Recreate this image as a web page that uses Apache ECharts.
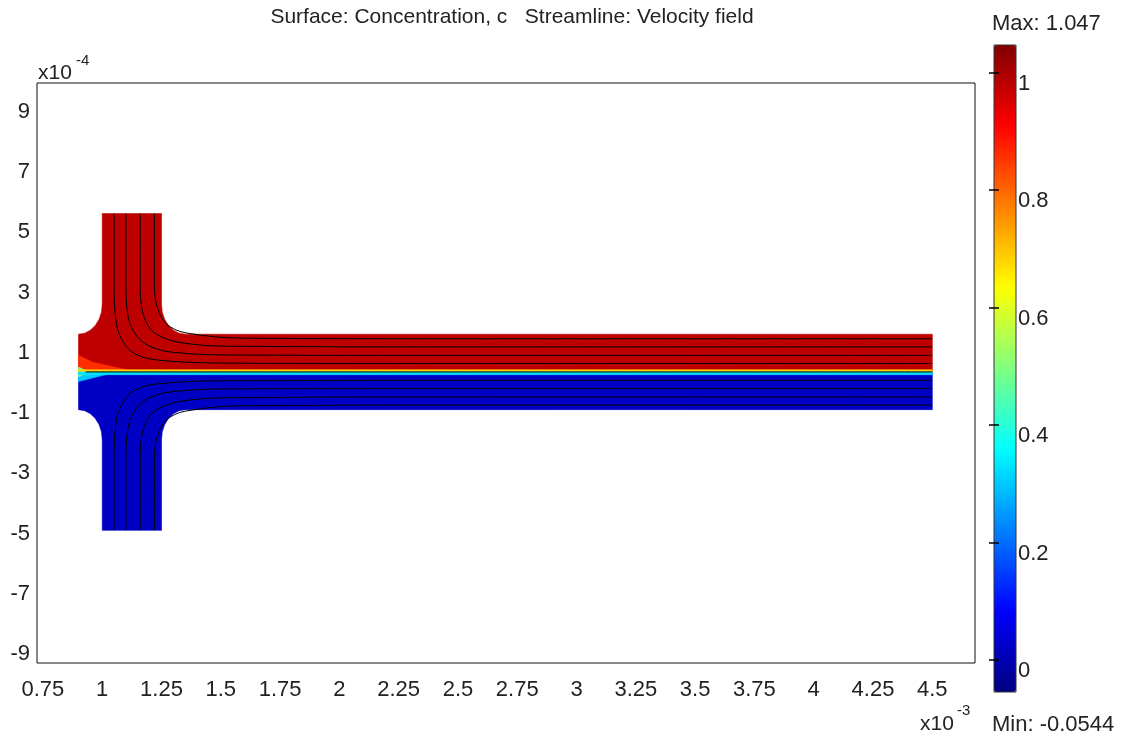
<!DOCTYPE html>
<html>
<head>
<meta charset="utf-8">
<title>Surface: Concentration, c  Streamline: Velocity field</title>
<script src="https://cdn.jsdelivr.net/npm/echarts@6/dist/echarts.min.js"></script>
<style>
  html, body { margin: 0; padding: 0; background: #fff; }
  #chart { width: 1127px; height: 747px; }
</style>
</head>
<body>
<div id="chart"></div>
<script>
// x in units of 1e-3 m, y in units of 1e-4 m
const xTicks = [0.75, 1, 1.25, 1.5, 1.75, 2, 2.25, 2.5, 2.75, 3, 3.25, 3.5, 3.75, 4, 4.25, 4.5];
const yTicks = [-9, -7, -5, -3, -1, 1, 3, 5, 7, 9];
const cTicks = [0, 0.2, 0.4, 0.6, 0.8, 1];
const cMin = -0.0544;
const cMax = 1.047;

// Upper fluid (inlet from the top), outline of the T-junction above the interface
const topFluid = [
  [0.9, 0.0], [0.9, 1.25], [0.926, 1.284], [0.95, 1.384], [0.971, 1.543], [0.987, 1.75],
  [0.997, 1.99], [1.0, 2.25], [1.0, 5.25], [1.25, 5.25], [1.25, 2.25], [1.253, 1.99],
  [1.263, 1.75], [1.279, 1.543], [1.30, 1.384], [1.324, 1.284], [1.35, 1.25],
  [4.5, 1.25], [4.5, 0.0]
];
// Lower fluid (inlet from the bottom)
const bottomFluid = [
  [0.9, 0.0], [0.9, -1.25], [0.926, -1.284], [0.95, -1.384], [0.971, -1.543], [0.987, -1.75],
  [0.997, -1.99], [1.0, -2.25], [1.0, -5.25], [1.25, -5.25], [1.25, -2.25], [1.253, -1.99],
  [1.263, -1.75], [1.279, -1.543], [1.30, -1.384], [1.324, -1.284], [1.35, -1.25],
  [4.5, -1.25], [4.5, 0.0]
];
// Mixing zone in the dead end on the left
const deadEndWarm = [[0.9, 0.05], [0.9, 0.55], [0.96, 0.32], [1.1, 0.08]];
const deadEndCool = [[0.9, -0.05], [1.02, -0.08], [0.9, -0.32]];
const deadEndMid = [[0.9, -0.16], [0.945, 0.0], [0.9, 0.16]];
// Thin diffusion layer along the interface
const layerUpper = [[0.9, 0.0], [4.5, 0.0], [4.5, 0.07], [0.9, 0.07]];
const layerLower = [[0.9, 0.0], [4.5, 0.0], [4.5, -0.09], [0.9, -0.09]];

const regions = [topFluid, bottomFluid, deadEndWarm, deadEndCool, deadEndMid, layerUpper, layerLower];
const concentration = [0.98, 0.02, 0.86, 0.3, 0.5, 0.68, 0.33];

// Streamlines of the velocity field
const streamTop1 = [[1.22, 5.25], [1.22, 3.0], [1.23, 2.2], [1.27, 1.6], [1.35, 1.3], [1.6, 1.12], [2.5, 1.1], [4.5, 1.1]];
const streamTop2 = [[1.16, 5.25], [1.16, 3.0], [1.17, 2.0], [1.22, 1.3], [1.35, 0.95], [1.6, 0.85], [2.5, 0.83], [4.5, 0.83]];
const streamTop3 = [[1.10, 5.25], [1.10, 3.0], [1.11, 1.8], [1.17, 1.0], [1.3, 0.65], [1.6, 0.56], [2.5, 0.55], [4.5, 0.55]];
const streamTop4 = [[1.05, 5.25], [1.05, 3.0], [1.06, 1.6], [1.12, 0.7], [1.25, 0.38], [1.6, 0.29], [2.5, 0.28], [4.5, 0.28]];
const streamMid = [[0.93, 0.0], [4.5, 0.0]];
const streamBot1 = [[1.22, -5.25], [1.22, -3.0], [1.23, -2.2], [1.27, -1.6], [1.35, -1.3], [1.6, -1.12], [2.5, -1.1], [4.5, -1.1]];
const streamBot2 = [[1.16, -5.25], [1.16, -3.0], [1.17, -2.0], [1.22, -1.3], [1.35, -0.95], [1.6, -0.85], [2.5, -0.83], [4.5, -0.83]];
const streamBot3 = [[1.10, -5.25], [1.10, -3.0], [1.11, -1.8], [1.17, -1.0], [1.3, -0.65], [1.6, -0.56], [2.5, -0.55], [4.5, -0.55]];
const streamBot4 = [[1.05, -5.25], [1.05, -3.0], [1.06, -1.6], [1.12, -0.7], [1.25, -0.38], [1.6, -0.29], [2.5, -0.28], [4.5, -0.28]];
const streamlines = [streamTop1, streamTop2, streamTop3, streamTop4, streamMid, streamBot1, streamBot2, streamBot3, streamBot4];

// Jet colour map, evenly spaced stops
const jet = ['#000080', '#0000ff', '#0080ff', '#00ffff', '#80ff80', '#ffff00', '#ff8000', '#ff0000', '#800000'];

const FONT = 'Liberation Sans';
const TXT = '#222';

const chart = echarts.init(document.getElementById('chart'), null, { renderer: 'canvas' });

const surfaceSeries = {
  type: 'custom',
  name: 'Concentration',
  xAxisIndex: 0,
  yAxisIndex: 0,
  silent: true,
  data: regions.map((r, i) => [i, concentration[i]]),
  renderItem: function (params, api) {
    const pts = regions[api.value(0)].map(p => api.coord(p));
    const col = api.visual('color');
    return {
      type: 'polygon',
      shape: { points: pts },
      style: { fill: col, stroke: col, lineWidth: 0.6 }
    };
  },
  z: 1
};

const streamSeries = streamlines.map(line => ({
  type: 'line',
  xAxisIndex: 0,
  yAxisIndex: 0,
  data: line,
  smooth: 0.35,
  showSymbol: false,
  silent: true,
  lineStyle: { color: '#000', width: 1 },
  z: 3
}));

const option = {
  animation: false,
  backgroundColor: '#fff',
  title: {
    text: 'Surface: Concentration, c   Streamline: Velocity field',
    left: 512,
    top: 7,
    padding: 0,
    textAlign: 'center',
    textStyle: { fontFamily: FONT, fontSize: 21, fontWeight: 'normal', color: TXT }
  },
  grid: [
    { left: 37, top: 83, width: 938, height: 580, show: true, borderColor: '#111', borderWidth: 1, backgroundColor: '#fff', z: 0 },
    { left: 994, top: 45, width: 22, height: 647, show: true, borderColor: '#333', borderWidth: 1, backgroundColor: 'transparent', z: 10 }
  ],
  xAxis: [
    {
      type: 'value', gridIndex: 0, min: 0.725, max: 4.68,
      axisLine: { show: false }, axisTick: { show: false }, splitLine: { show: false },
      axisLabel: { customValues: xTicks, margin: 16, fontFamily: FONT, fontSize: 22, color: TXT }
    },
    { type: 'value', gridIndex: 1, show: false, min: 0, max: 1 }
  ],
  yAxis: [
    {
      type: 'value', gridIndex: 0, min: -9.65, max: 9.58,
      axisLine: { show: false }, axisTick: { show: false }, splitLine: { show: false },
      axisLabel: { customValues: yTicks, margin: 7, verticalAlign: 'top', fontFamily: FONT, fontSize: 22, color: TXT }
    },
    {
      type: 'value', gridIndex: 1, position: 'right', min: cMin, max: cMax, z: 10,
      axisLine: { show: false }, splitLine: { show: false },
      axisTick: { show: true, inside: true, length: 5, customValues: cTicks, lineStyle: { color: '#000', width: 1.5 } },
      axisLabel: { customValues: cTicks, margin: 2, verticalAlign: 'top', fontFamily: FONT, fontSize: 22, color: TXT }
    },
    {
      type: 'value', gridIndex: 1, position: 'left', min: cMin, max: cMax, z: 10,
      axisLine: { show: false }, splitLine: { show: false },
      axisTick: { show: true, inside: true, length: 5, customValues: cTicks, lineStyle: { color: '#000', width: 1.5 } },
      axisLabel: { show: false }
    }
  ],
  visualMap: {
    type: 'continuous',
    seriesIndex: 0,
    dimension: 1,
    min: cMin,
    max: cMax,
    calculable: false,
    hoverLink: false,
    orient: 'vertical',
    left: 994,
    top: 45,
    padding: 0,
    itemWidth: 22,
    itemHeight: 647,
    text: null,
    showLabel: false,
    inRange: { color: jet },
    z: 2
  },
  graphic: [
    { type: 'text', left: 38, top: 63, style: { text: 'x10', fontFamily: FONT, fontSize: 21, fill: TXT } },
    { type: 'text', left: 76, top: 53, style: { text: '-4', fontFamily: FONT, fontSize: 15, fill: TXT } },
    { type: 'text', left: 920, top: 714, style: { text: 'x10', fontFamily: FONT, fontSize: 21, fill: TXT } },
    { type: 'text', left: 957, top: 703, style: { text: '-3', fontFamily: FONT, fontSize: 15, fill: TXT } },
    { type: 'text', left: 992, top: 13, style: { text: 'Max: 1.047', fontFamily: FONT, fontSize: 22, fill: TXT } },
    { type: 'text', left: 992, top: 714, style: { text: 'Min: -0.0544', fontFamily: FONT, fontSize: 22, fill: TXT } }
  ],
  series: [surfaceSeries].concat(streamSeries)
};

chart.setOption(option);
</script>
</body>
</html>
